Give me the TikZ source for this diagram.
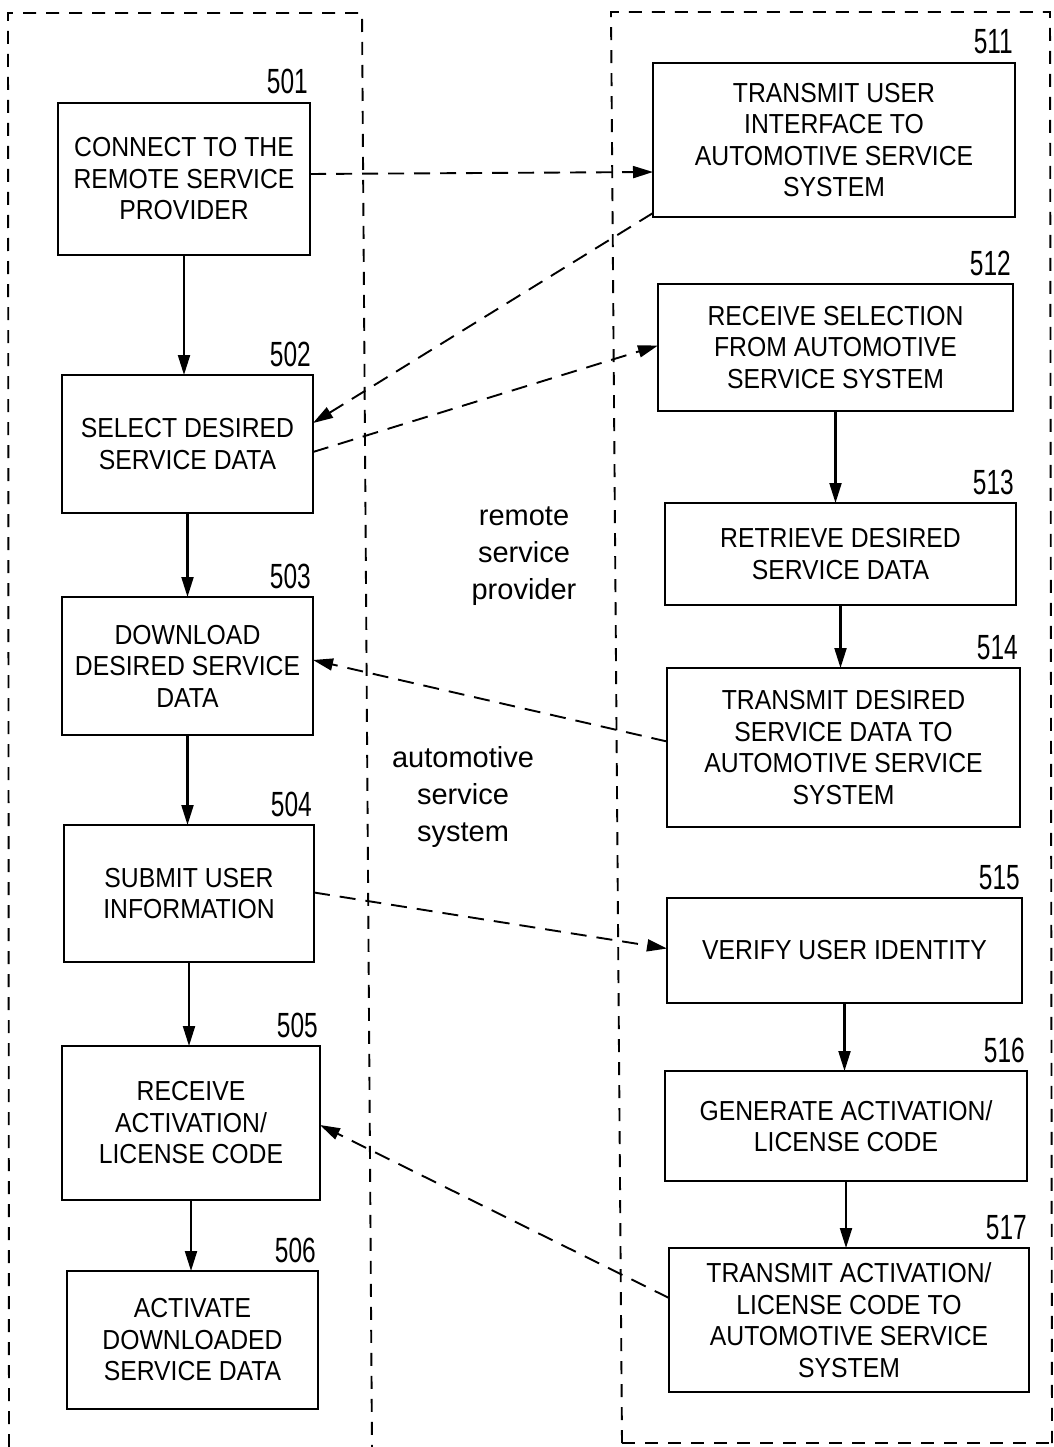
\documentclass[tikz,border=0pt]{standalone}
\usepackage{fontspec}
\setmainfont{Liberation Sans}
\newfontfamily\boxfont[FakeStretch=0.9]{Liberation Sans}
\newfontfamily\numfont[FakeStretch=0.7]{Liberation Sans}
\usetikzlibrary{arrows.meta,calc}
\tikzset{
  stepbox/.style={draw, line width=2.3pt, rectangle, inner sep=0pt, outer sep=0pt, align=center,
    font=\boxfont\fontsize{27.5}{31.5}\selectfont},
  num/.style={font=\numfont\fontsize{35}{35}\selectfont, anchor=base east, inner sep=0pt},
  flow/.style={line width=2.1pt, -{Triangle[length=20pt,width=12pt]}},
  msg/.style={line width=1.9pt, dash pattern=on 16pt off 10pt, -{Triangle[length=20pt,width=12pt]}},
  frame/.style={line width=1.9pt, dash pattern=on 13pt off 10pt},
  lbl/.style={align=center, inner sep=0pt, font=\fontsize{29}{37}\selectfont}
}
\begin{document}
\begin{tikzpicture}[x=1pt,y=-1pt]
\fill[white] (0,0) rectangle (1053,1447);
\useasboundingbox (0,0) rectangle (1053,1447);
% containers
\draw[frame] (9,1447) -- (8,13) -- (362,13) -- (372,1447);
\draw[frame] (622,1443) -- (611,12) -- (1050,12) -- (1052,1443);
\draw[frame] (622,1443) -- (1053,1443);
% left column
\node[stepbox, minimum width=252pt, minimum height=152pt] (b501) at (184,179) {CONNECT TO THE\\REMOTE SERVICE\\PROVIDER};
\node[stepbox, minimum width=251pt, minimum height=138pt] (b502) at (187.5,444) {SELECT DESIRED\\SERVICE DATA};
\node[stepbox, minimum width=251pt, minimum height=138pt] (b503) at (187.5,666) {DOWNLOAD\\DESIRED SERVICE\\DATA};
\node[stepbox, minimum width=250pt, minimum height=137pt] (b504) at (189,893.5) {SUBMIT USER\\INFORMATION};
\node[stepbox, minimum width=258pt, minimum height=154pt] (b505) at (191,1123) {RECEIVE\\ACTIVATION/\\LICENSE CODE};
\node[stepbox, minimum width=251pt, minimum height=138pt] (b506) at (192.5,1340) {ACTIVATE\\DOWNLOADED\\SERVICE DATA};
% right column
\node[stepbox, minimum width=362pt, minimum height=154pt] (b511) at (834,140) {TRANSMIT USER\\INTERFACE TO\\AUTOMOTIVE SERVICE\\SYSTEM};
\node[stepbox, minimum width=355pt, minimum height=127pt] (b512) at (835.5,347.5) {RECEIVE SELECTION\\FROM AUTOMOTIVE\\SERVICE SYSTEM};
\node[stepbox, minimum width=351pt, minimum height=102pt] (b513) at (840.5,554) {RETRIEVE DESIRED\\SERVICE DATA};
\node[stepbox, minimum width=353pt, minimum height=159pt] (b514) at (843.5,747.5) {TRANSMIT DESIRED\\SERVICE DATA TO\\AUTOMOTIVE SERVICE\\SYSTEM};
\node[stepbox, minimum width=355pt, minimum height=105pt] (b515) at (844.5,950.5) {VERIFY USER IDENTITY};
\node[stepbox, minimum width=362pt, minimum height=110pt] (b516) at (846,1126) {GENERATE ACTIVATION/\\LICENSE CODE};
\node[stepbox, minimum width=360pt, minimum height=144pt] (b517) at (849,1320) {TRANSMIT ACTIVATION/\\LICENSE CODE TO\\AUTOMOTIVE SERVICE\\SYSTEM};
% numbers
\foreach \b in {501,502,503,504,505,506,511,512,513,514,515,516,517}{
  \node[num] (n\b) at ($(b\b.north east)+(-2,-9)$) {\b};
}
% side labels
\node[lbl] (lrsp) at (524,556) {remote\\service\\provider};
\node[lbl] (lass) at (463,797) {automotive\\service\\system};
% solid flow
\draw[flow] (b501.south) -- (b501.south |- b502.north);
\draw[flow] (b502.south) -- (b502.south |- b503.north);
\draw[flow] (b503.south) -- (b503.south |- b504.north);
\draw[flow] (b504.south) -- (b504.south |- b505.north);
\draw[flow] (b505.south) -- (b505.south |- b506.north);
\draw[flow] (b512.south) -- (b512.south |- b513.north);
\draw[flow] (b513.south) -- (b513.south |- b514.north);
\draw[flow] (b515.south) -- (b515.south |- b516.north);
\draw[flow] (b516.south) -- (b516.south |- b517.north);
% dashed messages
\draw[msg] ($(b501.east)+(0,-5)$) -- ($(b511.west)+(0,32)$);
\draw[msg] ($(b511.south west)+(0,-4)$) -- ($(b502.east)+(0,-21)$);
\draw[msg] ($(b502.east)+(0,8)$) -- ($(b512.west)+(0,-2)$);
\draw[msg] ($(b514.west)+(0,-6)$) -- ($(b503.east)+(0,-6)$);
\draw[msg] ($(b504.east)+(0,-1)$) -- ($(b515.west)+(0,-2)$);
\draw[msg] ($(b517.west)+(0,-22)$) -- ($(b505.east)+(0,2)$);
\end{tikzpicture}
\end{document}
